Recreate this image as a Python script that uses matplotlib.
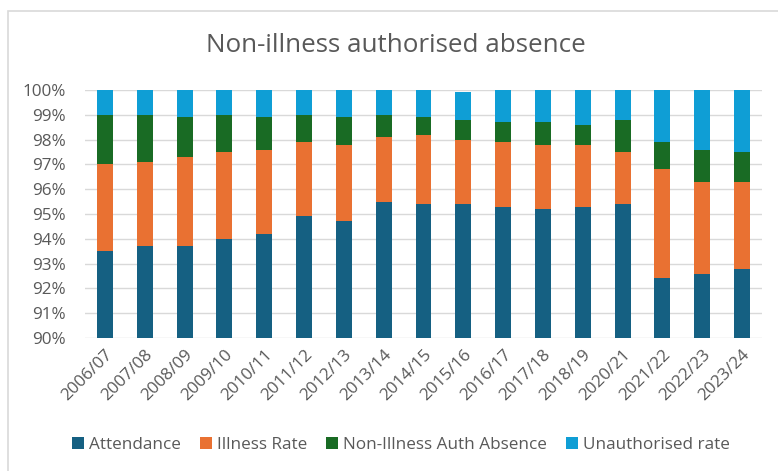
import matplotlib
matplotlib.use("Agg")
import matplotlib.pyplot as plt
from matplotlib.patches import Rectangle, Patch
import numpy as np

# Chart data (percentages)
years = ["2006/07", "2007/08", "2008/09", "2009/10", "2010/11", "2011/12",
         "2012/13", "2013/14", "2014/15", "2015/16", "2016/17", "2017/18",
         "2018/19", "2020/21", "2021/22", "2022/23", "2023/24"]
attendance = [93.5, 93.7, 93.7, 94.0, 94.2, 94.9, 94.7, 95.5, 95.4, 95.4,
              95.3, 95.2, 95.3, 95.4, 92.4, 92.6, 92.8]
illness = [3.5, 3.4, 3.6, 3.5, 3.4, 3.0, 3.1, 2.6, 2.8, 2.6,
           2.6, 2.6, 2.5, 2.1, 4.4, 3.7, 3.5]
non_illness_auth = [2.0, 1.9, 1.6, 1.5, 1.3, 1.1, 1.1, 0.9, 0.7, 0.8,
                    0.8, 0.9, 0.8, 1.3, 1.1, 1.3, 1.2]
unauthorised = [1.0, 1.0, 1.1, 1.0, 1.1, 1.0, 1.1, 1.0, 1.1, 1.1,
                1.3, 1.3, 1.4, 1.2, 2.1, 2.4, 2.5]

series_names = ["Attendance", "Illness Rate", "Non-Illness Auth Absence", "Unauthorised rate"]
colors = ["#156082", "#E97132", "#196B24", "#0F9ED5"]
text_col = "#595959"

plt.rcParams["font.family"] = ["Open Sans", "DejaVu Sans"]

fig = plt.figure(figsize=(7.78, 4.71), dpi=100)
ax = fig.add_axes([85 / 778, 1 - 338 / 471, (762 - 85) / 778, (338 - 90) / 471])

# chart border
fig.patches.append(Rectangle((8 / 778, -0.1), 1.2, 1 - 11 / 471 + 0.1,
                             transform=fig.transFigure, fill=False,
                             edgecolor="#d9d9d9", linewidth=1.2))

x = np.arange(len(years))
bottom = np.zeros(len(years))
for vals, name, c in zip([attendance, illness, non_illness_auth, unauthorised],
                         series_names, colors):
    vals = np.array(vals)
    ax.bar(x, vals, bottom=bottom, width=0.4, color=c, label=name, zorder=3)
    bottom = bottom + vals

ax.set_ylim(90, 100)
ax.set_xlim(-0.5, len(years) - 0.5)
ax.set_yticks(np.arange(90, 101, 1))
ax.set_yticklabels([f"{v}%" for v in range(90, 101)])
ax.yaxis.grid(True, color="#d9d9d9", linewidth=1, zorder=0)
ax.set_xticks(x)
ax.set_xticklabels(years, rotation=45, ha="right", rotation_mode="anchor")
ax.tick_params(axis="both", length=0, colors=text_col, labelsize=12.3)
ax.tick_params(axis="y", pad=14)
ax.tick_params(axis="x", pad=6)
for s in ax.spines.values():
    s.set_visible(False)

fig.text(396 / 778, 1 - 45 / 471, "Non-illness authorised absence", ha="center",
         va="center", fontsize=18.7, color=text_col)

handles = [Patch(facecolor=c) for c in colors]
fig.legend(handles, series_names, loc="center", bbox_to_anchor=(401 / 778, 1 - 445 / 471),
           ncol=4, frameon=False, fontsize=12.3, labelcolor=text_col,
           handlelength=0.7, handleheight=0.7, handletextpad=0.3, columnspacing=1.1)

fig.savefig("out.png", dpi=100)
